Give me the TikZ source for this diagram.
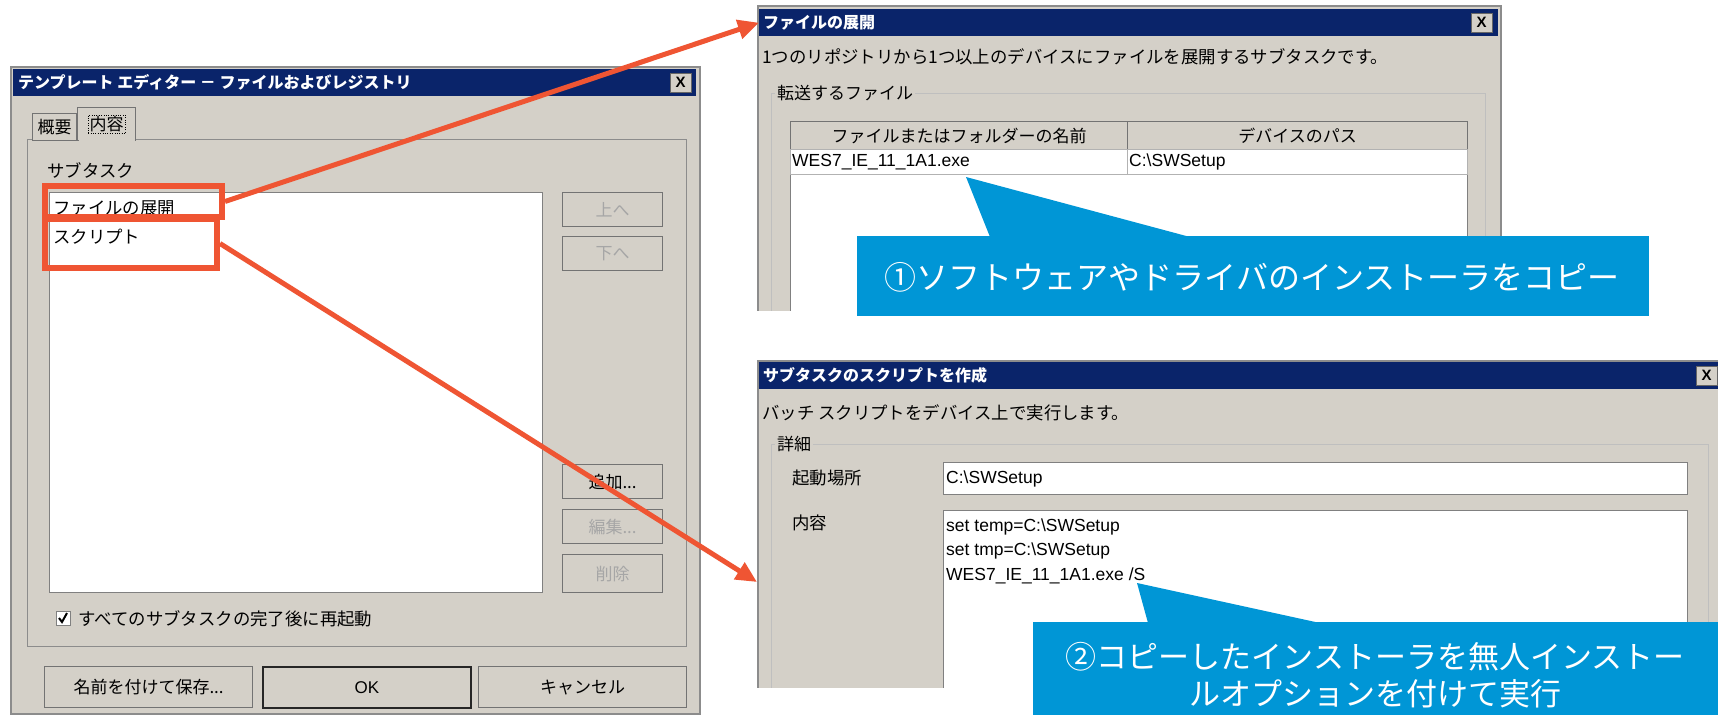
\documentclass[tikz,border=0pt]{standalone}
\usepackage{fontspec}
\setmainfont{Noto Sans CJK JP}
\newfontfamily\latin{Liberation Sans}
\usetikzlibrary{arrows.meta,positioning}

\definecolor{winbg}{RGB}{212,208,200}
\definecolor{navy}{RGB}{10,36,106}
\definecolor{hilitered}{RGB}{239,85,51}
\definecolor{calloutblue}{RGB}{0,150,214}

\tikzset{
  win/.style={fill=winbg, draw=black!45, line width=1.5pt, anchor=north west, inner sep=0pt},
  titlebar/.style={fill=navy, anchor=north west, inner sep=0pt, minimum height=27pt},
  titletext/.style={text=white, inner sep=0pt, font=\fontsize{16}{16}\selectfont\bfseries},
  closebtn/.style={fill=winbg, draw=black!60, minimum width=21pt, minimum height=19pt, inner sep=0pt, font=\latin\fontsize{15}{15}\selectfont\bfseries},
  btn/.style={fill=winbg, draw=black!55, line width=1.2pt, anchor=north west, inner sep=0pt, minimum width=100pt, minimum height=34pt, font=\fontsize{17}{17}\selectfont},
  greyed/.style={text=black!35},
  field/.style={fill=white, draw=black!50, line width=1.2pt, anchor=north west, inner sep=0pt},
  groupbox/.style={draw=black!25, line width=1pt, anchor=north west, inner sep=0pt},
  grouplabel/.style={fill=winbg, inner xsep=2pt, inner ysep=0pt, font=\fontsize{17}{17}\selectfont},
  txt/.style={anchor=west, inner sep=0pt, font=\fontsize{17.4}{17.4}\selectfont},
  latintxt/.style={anchor=west, inner sep=0pt, font=\latin\fontsize{17.5}{17.5}\selectfont},
  pick/.style={draw=hilitered, line width=6pt, anchor=north west, inner sep=0pt},
  link/.style={draw=hilitered, line width=5pt, -{Triangle[length=21pt,width=19pt]}},
  callout/.style={fill=calloutblue, anchor=north west, inner sep=0pt},
  callouttext/.style={text=white, inner sep=0pt, align=center, font=\fontsize{32}{36}\selectfont},
}

\begin{document}
\begin{tikzpicture}[x=1pt, y=-1pt]
  \useasboundingbox (0,0) rectangle (1718,715);
  \fill[white] (0,0) rectangle (1718,715);

  % template editor
  \node[win, minimum width=689pt, minimum height=647pt] (editor) at (10,66) {};
  \node[titlebar, minimum width=683pt] (editortitle) at (13,69) {};
  \node[titletext, right=5pt of editortitle.west] (editorname) {テンプレート エディター － ファイルおよびレジストリ};
  \node[closebtn, left=5pt of editortitle.east] (editorclose) {X};
  \node[win, line width=1.2pt, minimum width=659pt, minimum height=507pt] (page) at (27,139) {};
  \node[btn, minimum width=44pt, minimum height=27pt] (tabsummary) at (32,113) {概要};
  \node[btn, minimum width=58pt, minimum height=33pt] (tabcontent) at (77,107) {};
  \draw[winbg, line width=2.5pt] ([xshift=1.5pt]tabcontent.south west) -- ([xshift=-1.5pt]tabcontent.south east);
  \node[draw, dotted, inner sep=1.5pt, font=\fontsize{17}{17}\selectfont] (tabcontentlabel) at (tabcontent) {内容};
  \node[txt] (subtasklabel) at (47,170) {サブタスク};
  \node[field, minimum width=493pt, minimum height=400pt] (tasklist) at (49,192) {};
  \node[txt] (itemdeploy) at (53,208) {ファイルの展開};
  \node[txt] (itemscript) at (53,237) {スクリプト};
  \node[pick, minimum width=177pt, minimum height=31pt] (pickdeploy) at (42,183) {};
  \node[pick, minimum width=172pt, minimum height=49pt] (pickscript) at (42,216) {};
  \node[btn, greyed] (btnup) at (562,192) {上へ};
  \node[btn, greyed] (btndown) at (562,236) {下へ};
  \node[btn] (btnadd) at (562,464) {追加...};
  \node[btn, greyed] (btnedit) at (562,509) {編集...};
  \node[btn, greyed, minimum height=38pt] (btndel) at (562,554) {削除};
  \node[field, minimum width=14pt, minimum height=14pt] (restartbox) at (56,611) {};
  \draw[line width=2pt] (59,618) -- (62,622) -- (67,613);
  \node[txt, right=7pt of restartbox] (restartlabel) {すべてのサブタスクの完了後に再起動};
  \node[btn, minimum width=208pt, minimum height=41pt] (btnsaveas) at (44,666) {名前を付けて保存...};
  \node[btn, minimum width=208pt, minimum height=41pt, draw=black!85, line width=2pt] (btnok) at (262,666) {\latin OK};
  \node[btn, minimum width=208pt, minimum height=41pt] (btncancel) at (478,666) {キャンセル};

  % file deployment dialog
  \begin{scope}
    \clip (754,0) rectangle (1503,310);
    \node[win, minimum width=743pt, minimum height=320pt] (deploy) at (757,5) {};
    \node[titlebar, minimum width=739pt] (deploytitle) at (759,9) {};
    \node[titletext, right=4pt of deploytitle.west] (deployname) {ファイルの展開};
    \node[closebtn, left=6pt of deploytitle.east] (deployclose) {X};
    \node[txt] (deploydesc) at (762,57) {1つのリポジトリから1つ以上のデバイスにファイルを展開するサブタスクです。};
    \node[groupbox, minimum width=714pt, minimum height=240pt] (filesgroup) at (771,93) {};
    \node[grouplabel, right=4pt of filesgroup.north west] (fileslabel) {転送するファイル};
    \node[field, minimum width=677pt, minimum height=220pt] (filetable) at (790,121) {};
    \node[btn, minimum width=337pt, minimum height=28pt] (colname) at (790,121) {ファイルまたはフォルダーの名前};
    \node[btn, minimum width=340pt, minimum height=28pt] (colpath) at (1127,121) {デバイスのパス};
    \node[field, draw=black!30, minimum width=337pt, minimum height=25pt] (cellname) at (790,149) {};
    \node[field, draw=black!30, minimum width=340pt, minimum height=25pt] (cellpath) at (1127,149) {};
    \node[latintxt, right=2pt of cellname.west] (rowname) {WES7\_IE\_11\_1A1.exe};
    \node[latintxt, right=2pt of cellpath.west] (rowpath) {C:\textbackslash SWSetup};
  \end{scope}

  % callout 1
  \coordinate (tipfile) at (966,177);
  \fill[calloutblue] (tipfile) -- (990,237) -- (1190,237) -- cycle;
  \node[callout, minimum width=792pt, minimum height=80pt] (copynote) at (857,236) {};
  \node[callouttext] (copynotetext) at (1252,277) {①ソフトウェアやドライバのインストーラをコピー};

  % script dialog
  \begin{scope}
    \clip (754,355) rectangle (1718,687);
    \node[win, minimum width=980pt, minimum height=360pt] (script) at (757,360) {};
    \node[titlebar, minimum width=960pt] (scripttitle) at (759,362) {};
    \node[titletext, right=4pt of scripttitle.west] (scriptname) {サブタスクのスクリプトを作成};
    \node[closebtn, left=2pt of scripttitle.east] (scriptclose) {X};
    \node[txt] (scriptdesc) at (762,413) {バッチ スクリプトをデバイス上で実行します。};
    \node[groupbox, minimum width=937pt, minimum height=300pt] (detailgroup) at (771,444) {};
    \node[grouplabel, right=4pt of detailgroup.north west] (detaillabel) {詳細};
    \node[txt] (startlabel) at (792,478) {起動場所};
    \node[field, minimum width=744pt, minimum height=32pt] (workdir) at (943,462) {};
    \node[latintxt, right=3pt of workdir.west] (workdirtext) {C:\textbackslash SWSetup};
    \node[txt] (bodylabel) at (792,523) {内容};
    \node[field, minimum width=744pt, minimum height=220pt] (scriptbody) at (943,510) {};
    \node[latintxt] (line1) at (946,527) {set temp=C:\textbackslash SWSetup};
    \node[latintxt] (line2) at (946,551) {set tmp=C:\textbackslash SWSetup};
    \node[latintxt] (line3) at (946,576) {WES7\_IE\_11\_1A1.exe /S};
  \end{scope}

  % callout 2
  \coordinate (tipscript) at (1137,583);
  \fill[calloutblue] (tipscript) -- (1148,623) -- (1320,623) -- cycle;
  \node[callout, minimum width=685pt, minimum height=93pt] (runnote) at (1033,622) {};
  \node[callouttext, font=\fontsize{31}{37}\selectfont] (runnotetext) at (1375,675) {②コピーしたインストーラを無人インストー\\ルオプションを付けて実行};

  % arrows
  \coordinate (scriptin) at (757,582);
  \draw[link] (pickdeploy.east) -- (deploytitle.west);
  \draw[link] (pickscript.east) -- (scriptin);
\end{tikzpicture}
\end{document}
